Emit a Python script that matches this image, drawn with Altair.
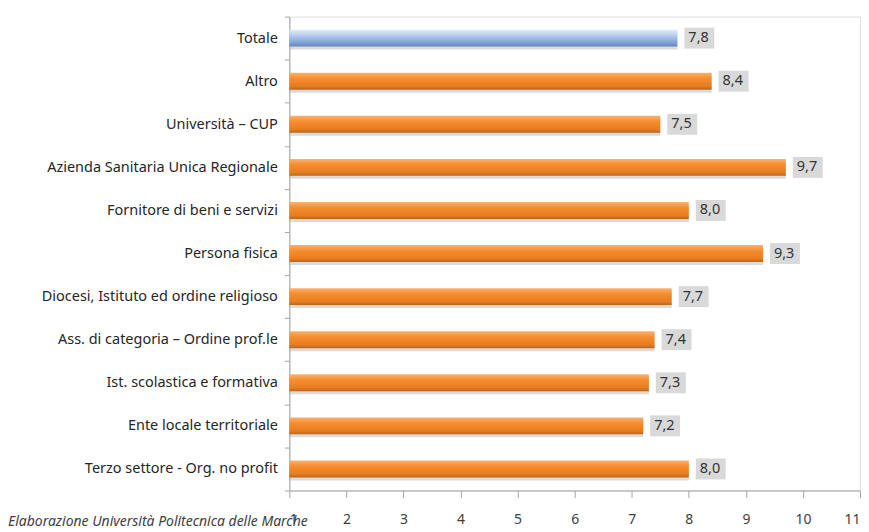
import altair as alt
import pandas as pd

categories = [
    "Totale",
    "Altro",
    "Università – CUP",
    "Azienda Sanitaria Unica Regionale",
    "Fornitore di beni e servizi",
    "Persona fisica",
    "Diocesi, Istituto ed ordine religioso",
    "Ass. di categoria – Ordine prof.le",
    "Ist. scolastica e formativa",
    "Ente locale territoriale",
    "Terzo settore - Org. no profit",
]
values = [7.8, 8.4, 7.5, 9.7, 8.0, 9.3, 7.7, 7.4, 7.3, 7.2, 8.0]
x_ticks = [1, 2, 3, 4, 5, 6, 7, 8, 9, 10, 11]
axis_min = 1
axis_max = 11
footer = "Elaborazione Università Politecnica delle Marche"

df = pd.DataFrame({
    "cat": categories,
    "value": values,
    "start": [axis_min] * len(values),
    "label": [f"{v:.1f}".replace(".", ",") for v in values],
})

W, H = 572, 475
FONT = "Noto Sans"

xscale = alt.Scale(domain=[axis_min, axis_max], zero=False, nice=False)
yscale = alt.Scale(domain=categories, paddingInner=0, paddingOuter=0)

xenc = alt.X("value:Q", scale=xscale, axis=alt.Axis(
    values=x_ticks, grid=False, title=None, domainColor="#a6a6a6",
    tickColor="#a6a6a6", tickSize=7, labelPadding=15, labelFontSize=14,
    labelColor="#404040", labelFont=FONT, labelFontWeight="normal"))
yenc = alt.Y("cat:N", scale=yscale, sort=categories, axis=alt.Axis(
    title=None, domainColor="#a6a6a6", tickColor="#a6a6a6", tickSize=5,
    tickBand="extent", labelPadding=7, labelFontSize=14.5, labelColor="#262626",
    labelFont=FONT, labelLimit=400))

base = alt.Chart(df)

orange = alt.Gradient(gradient="linear", x1=0, x2=0, y1=0, y2=1, stops=[
    alt.GradientStop(offset=0, color="#fbb26e"),
    alt.GradientStop(offset=0.35, color="#f68c2c"),
    alt.GradientStop(offset=0.8, color="#e57d22"),
    alt.GradientStop(offset=1, color="#b9651f"),
])
blue = alt.Gradient(gradient="linear", x1=0, x2=0, y1=0, y2=1, stops=[
    alt.GradientStop(offset=0, color="#e3ebf7"),
    alt.GradientStop(offset=0.45, color="#a9c1e6"),
    alt.GradientStop(offset=0.8, color="#7c9fd6"),
    alt.GradientStop(offset=1, color="#6684b5"),
])

shadow = base.mark_bar(size=17, yOffset=3, color="#b0b0b0", opacity=0.45).encode(
    x=xenc, x2="start:Q", y=yenc)
bars_o = base.transform_filter(alt.datum.cat != "Totale").mark_bar(size=17, color=orange).encode(
    x=xenc, x2="start:Q", y=yenc)
bars_b = base.transform_filter(alt.datum.cat == "Totale").mark_bar(size=17, color=blue).encode(
    x=xenc, x2="start:Q", y=yenc)
boxes = base.mark_bar(size=21, color="#d9d9d9", xOffset=7, x2Offset=37).encode(
    x=xenc, x2="value:Q", y=yenc)
texts = base.mark_text(align="left", baseline="middle", dx=11, fontSize=14.5,
                       font=FONT, color="#333333").encode(
    x=xenc, y=yenc, text="label:N")
foot = alt.Chart(pd.DataFrame({"t": [footer]})).mark_text(
    align="left", baseline="middle", fontSize=14, fontStyle="italic",
    font=FONT, color="#404040").encode(
    x=alt.value(-282), y=alt.value(H + 32), text="t:N")

chart = alt.layer(shadow, bars_o, bars_b, boxes, texts, foot).properties(
    width=W, height=H, padding=0
).configure_view(stroke=None).configure(background="white")

chart.save("out.html", embed_options={"renderer": "svg", "actions": False})
